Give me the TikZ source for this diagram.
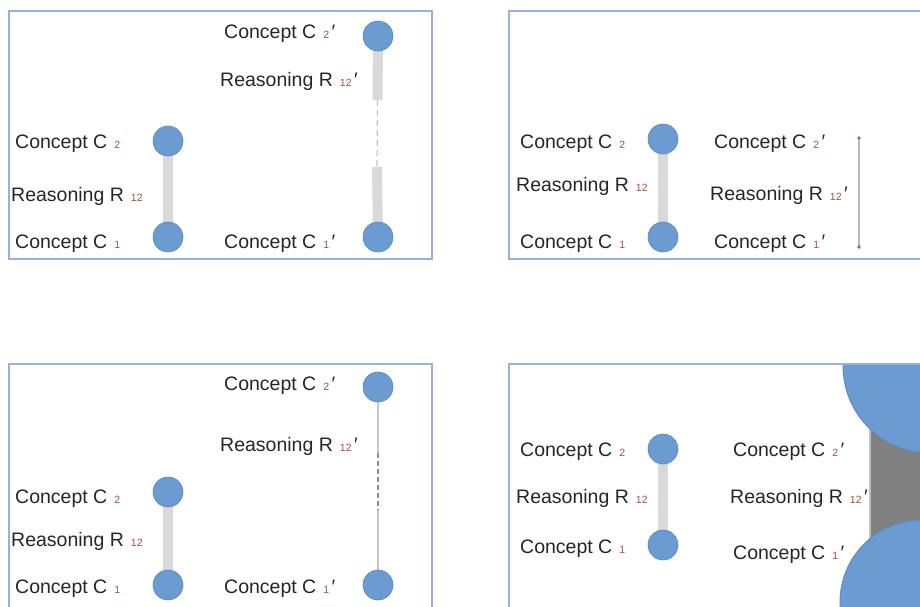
\documentclass[tikz,border=0pt]{standalone}
\usepackage{fontspec}
\setmainfont{Liberation Sans}

\definecolor{frame}{HTML}{95B3D7}
\definecolor{ball}{HTML}{6C9BD2}
\definecolor{ballrim}{HTML}{5A88C0}
\definecolor{barfill}{HTML}{D9D9D9}
\definecolor{ink}{HTML}{262626}
\definecolor{subink}{HTML}{A3503C}
\definecolor{slab}{HTML}{808080}

\pgfdeclarelayer{paper}
\pgfdeclarelayer{bars}
\pgfsetlayers{paper,bars,main}

% index after a symbol, and the prime that marks the second concept pair
\newcommand\csub[1]{\hspace{7pt}{\fontsize{10.5}{12}\selectfont\color{subink}#1}}
\newcommand\cprm{\hspace{2.5pt}′}

\tikzset{
  frm/.style={draw=frame, line width=1.2pt},
  dot/.style={circle, fill=ball, draw=ballrim, line width=0.6pt, minimum size=30pt, inner sep=0pt},
  bigdot/.style={circle, fill=ball, draw=ballrim, line width=0.8pt, inner sep=0pt},
  pindot/.style={circle, fill=ball!80!black, minimum size=3.6pt, inner sep=0pt},
  bar/.style={draw=barfill, line width=10pt},
  gapline/.style={draw=barfill!90!black, line width=1.2pt, dash pattern=on 6pt off 4pt},
  lightline/.style={draw=black!22, line width=1.6pt},
  darkdash/.style={draw=black!45, line width=1.6pt, dash pattern=on 5pt off 3pt},
  thinline/.style={draw=black!28, line width=1.8pt},
  lbl/.style={anchor=base west, inner sep=0pt, text=ink, font=\fontsize{19.5}{23}\selectfont},
}

\begin{document}
\begin{tikzpicture}[x=1pt, y=-1pt]
\useasboundingbox (0,0) rectangle (920,606);
\begin{pgfonlayer}{paper}
  \fill[white] (0,0) rectangle (920,606);
\end{pgfonlayer}
\clip (0,0) rectangle (920,606);

% ---------- panel 1: broken link ----------
\draw[frm] (9,11) rectangle (432,259);
\node[dot] (p1a2) at (168,141) {};
\node[dot] (p1a1) at (168,237) {};
\node[dot] (p1b2) at (378,36) {};
\node[dot] (p1b1) at (378,237) {};
\coordinate (p1m1) at (377.5,100);
\coordinate (p1m2) at (377,167);
\begin{pgfonlayer}{bars}
  \draw[bar] (p1a2.center) -- (p1a1.center);
  \draw[bar] (p1b2.center) -- (p1m1);
  \draw[bar] (p1m2) -- (p1b1.center);
  \draw[gapline] (p1m1) -- (p1m2);
\end{pgfonlayer}
\node[lbl] (p1t1) at (15,148) {Concept C\csub{2}};
\node[lbl] (p1t2) at (11,201) {Reasoning R\csub{12}};
\node[lbl] (p1t3) at (15,248) {Concept C\csub{1}};
\node[lbl] (p1t4) at (224,38) {Concept C\csub{2}\cprm};
\node[lbl] (p1t5) at (220,86) {Reasoning R\csub{12}\cprm};
\node[lbl] (p1t6) at (224,248) {Concept C\csub{1}\cprm};

% ---------- panel 2: shrunken pair ----------
\draw[frm] (509,11) rectangle (940,259);
\node[dot] (p2a2) at (663,139) {};
\node[dot] (p2a1) at (663,237) {};
\begin{pgfonlayer}{bars}
  \draw[bar] (p2a2.center) -- (p2a1.center);
\end{pgfonlayer}
\node[pindot] (p2b2) at (859,138) {};
\node[pindot] (p2b1) at (859,247) {};
\begin{pgfonlayer}{bars}
  \draw[thinline] (p2b2.center) -- (p2b1.center);
\end{pgfonlayer}
\node[lbl] (p2t1) at (520,148) {Concept C\csub{2}};
\node[lbl] (p2t2) at (516,191) {Reasoning R\csub{12}};
\node[lbl] (p2t3) at (520,248) {Concept C\csub{1}};
\node[lbl] (p2t4) at (714,148) {Concept C\csub{2}\cprm};
\node[lbl] (p2t5) at (710,200.5) {Reasoning R\csub{12}\cprm};
\node[lbl] (p2t6) at (714,248) {Concept C\csub{1}\cprm};

% ---------- panel 3: thinned link ----------
\draw[frm] (9,364) rectangle (432,640);
\node[dot] (p3b2) at (378,387) {};
\node[dot] (p3a2) at (168,492) {};
\node[dot] (p3a1) at (168,585) {};
\node[dot] (p3b1) at (378,585) {};
\coordinate (p3m1) at (378,453);
\coordinate (p3m2) at (378,510);
\begin{pgfonlayer}{bars}
  \draw[bar] (p3a2.center) -- (p3a1.center);
  \draw[lightline] (p3b2.center) -- (p3m1);
  \draw[darkdash] (p3m1) -- (p3m2);
  \draw[lightline] (p3m2) -- (p3b1.center);
\end{pgfonlayer}
\node[lbl] (p3t1) at (224,390) {Concept C\csub{2}\cprm};
\node[lbl] (p3t2) at (220,451.5) {Reasoning R\csub{12}\cprm};
\node[lbl] (p3t3) at (15,503) {Concept C\csub{2}};
\node[lbl] (p3t4) at (11,546) {Reasoning R\csub{12}};
\node[lbl] (p3t5) at (15,593) {Concept C\csub{1}};
\node[lbl] (p3t6) at (224,593) {Concept C\csub{1}\cprm};

% ---------- panel 4: inflated pair ----------
\draw[frm] (509,364) rectangle (940,640);
\node[dot] (p4a2) at (663,449) {};
\node[dot] (p4a1) at (663,545) {};
\begin{pgfonlayer}{bars}
  \draw[bar] (p4a2.center) -- (p4a1.center);
\end{pgfonlayer}
\begin{scope}
  \clip (509,365) rectangle (990,640);
  \fill[slab] (870,366) rectangle (990,602);
  \draw[black!25, line width=1.2pt] (870,366) -- (870,602);
  \node[bigdot, minimum size=174pt] (p4b2) at (930,366) {};
  \node[bigdot, minimum size=164pt] (p4b1) at (922,602) {};
\end{scope}
\node[lbl] (p4t1) at (520,456) {Concept C\csub{2}};
\node[lbl] (p4t2) at (516,503) {Reasoning R\csub{12}};
\node[lbl] (p4t3) at (520,553) {Concept C\csub{1}};
\node[lbl] (p4t4) at (733,456) {Concept C\csub{2}\cprm};
\node[lbl] (p4t5) at (730,503) {Reasoning R\csub{12}\cprm};
\node[lbl] (p4t6) at (733,559.5) {Concept C\csub{1}\cprm};
\end{tikzpicture}
\end{document}
